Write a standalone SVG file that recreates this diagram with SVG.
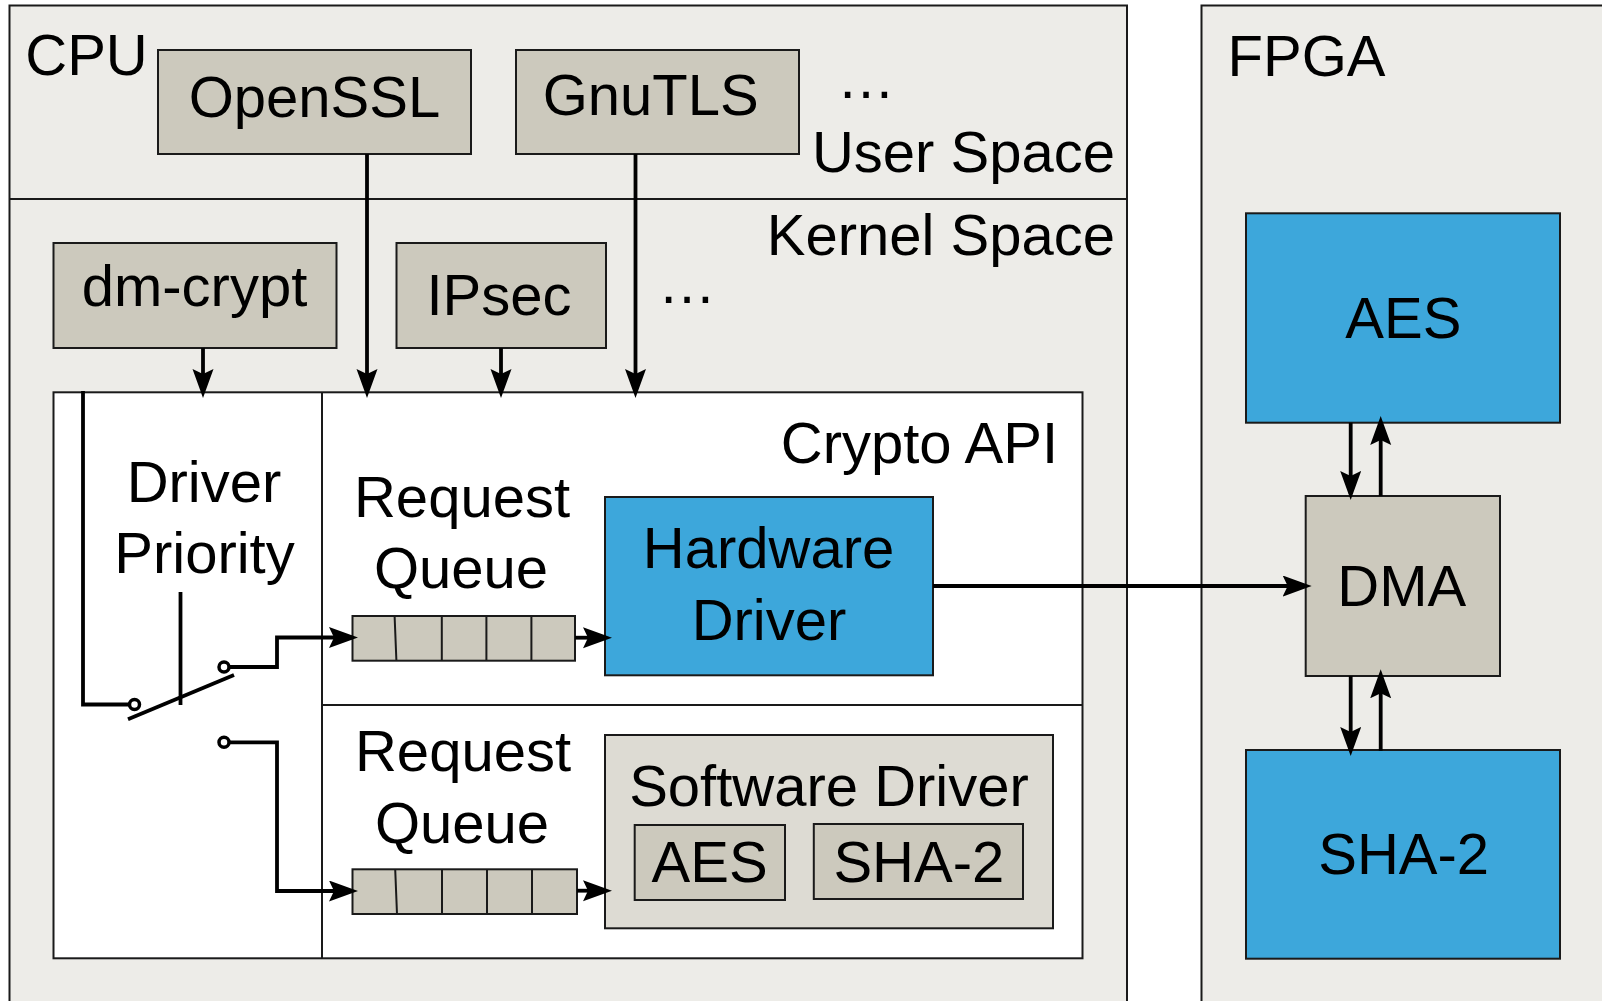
<svg xmlns="http://www.w3.org/2000/svg" width="1602" height="1001" viewBox="0 0 1602 1001">
<style>
text{font-family:"Liberation Sans",Arial,sans-serif;font-size:58px;fill:#000}
.c{text-anchor:middle}
.e{text-anchor:end}
.area{fill:#edece8;stroke:#1a1a1a;stroke-width:2}
.gray{fill:#ccc9bd;stroke:#1a1a1a;stroke-width:2}
.blue{fill:#3da7db;stroke:#1a1a1a;stroke-width:2}
.light{fill:#dddbd3;stroke:#1a1a1a;stroke-width:2}
.white{fill:#fff;stroke:#1a1a1a;stroke-width:2}
.thin{fill:none;stroke:#1a1a1a;stroke-width:2}
.con{fill:none;stroke:#000;stroke-width:3.8}
.arr{marker-end:url(#ah)}
.sw{fill:#fff;stroke:#000;stroke-width:3.5}
</style>
<defs>
<marker id="ah" markerUnits="userSpaceOnUse" markerWidth="32" markerHeight="24" refX="23" refY="10.5" orient="auto">
<path d="M0,0 L29,10.5 L0,21 L5,10.5 z" fill="#000"/>
</marker>
</defs>
<rect width="1602" height="1001" fill="#fff"/>

<g id="cpu">
<rect class="area" x="9.5" y="5.5" width="1117.5" height="1010"/>
<line class="thin" x1="9.5" y1="199" x2="1127" y2="199"/>
<text x="86.5" y="75" class="c">CPU</text>
<text x="1115" y="172" class="e">User Space</text>
<text x="1115" y="255" class="e">Kernel Space</text>
<text x="866" y="98" class="c">…</text>
<text x="687" y="303" class="c">…</text>
</g>

<g id="fpga">
<rect class="area" x="1201.5" y="5.5" width="420" height="1010"/>
<text x="1306.5" y="76" class="c">FPGA</text>
</g>

<g id="openssl">
<rect class="gray" x="158" y="50" width="313" height="104"/>
<text x="314.5" y="117" class="c">OpenSSL</text>
</g>
<g id="gnutls">
<rect class="gray" x="516" y="50" width="283" height="104"/>
<text x="650.7" y="115" class="c">GnuTLS</text>
</g>
<g id="dmcrypt">
<rect class="gray" x="53.5" y="243" width="283" height="105"/>
<text x="194.5" y="306" class="c">dm-crypt</text>
</g>
<g id="ipsec">
<rect class="gray" x="396.5" y="243" width="209.5" height="105"/>
<text x="499" y="315" class="c">IPsec</text>
</g>

<g id="cryptoapi">
<rect class="white" x="53.5" y="392.3" width="1029" height="566"/>
<line class="thin" x1="322" y1="392.3" x2="322" y2="958.3"/>
<line class="thin" x1="322" y1="705" x2="1082.5" y2="705"/>
<text x="1058" y="462.7" class="e">Crypto API</text>
</g>

<g id="driverpriority">
<text x="204" y="501.7" class="c">Driver</text>
<text x="204.5" y="573" class="c">Priority</text>
<line class="con" x1="180.5" y1="592" x2="180.5" y2="705"/>
<line class="con" x1="128" y1="719.3" x2="234" y2="675"/>
<circle class="sw" cx="134.5" cy="704.5" r="5"/>
<circle class="sw" cx="224" cy="667" r="5"/>
<circle class="sw" cx="224" cy="742.3" r="5"/>
</g>

<g id="queue1">
<text x="462" y="516.7" class="c">Request</text>
<text x="461" y="588" class="c">Queue</text>
<rect class="gray" x="352.5" y="616" width="222.5" height="44.7"/>
<path class="thin" d="M394.6,616 L396.4,660.7 M441.8,616 V660.7 M486.4,616 V660.7 M531.4,616 V660.7"/>
</g>

<g id="queue2">
<text x="463" y="770.7" class="c">Request</text>
<text x="462" y="843" class="c">Queue</text>
<rect class="gray" x="352.5" y="869.3" width="224.5" height="44.7"/>
<path class="thin" d="M395.2,869.3 L397,914 M442,869.3 V914 M487,869.3 V914 M532,869.3 V914"/>
</g>

<g id="hwdriver">
<rect class="blue" x="605" y="497" width="328" height="178.3"/>
<text x="768.5" y="568.3" class="c">Hardware</text>
<text x="769" y="640" class="c">Driver</text>
</g>

<g id="swdriver">
<rect class="light" x="605" y="735" width="448" height="193.3"/>
<text x="829" y="806" class="c">Software Driver</text>
<rect class="gray" x="634.7" y="825" width="150.3" height="75"/>
<text x="709.6" y="881.7" class="c">AES</text>
<rect class="gray" x="813.8" y="824" width="209.2" height="75"/>
<text x="918.8" y="881.7" class="c">SHA-2</text>
</g>

<g id="aes">
<rect class="blue" x="1246" y="213.3" width="314" height="209.4"/>
<text x="1403.3" y="338.3" class="c">AES</text>
</g>
<g id="dma">
<rect class="gray" x="1305.7" y="496" width="194.3" height="180"/>
<text x="1401.8" y="606" class="c">DMA</text>
</g>
<g id="sha2">
<rect class="blue" x="1246" y="750" width="314" height="208.7"/>
<text x="1403.7" y="874.3" class="c">SHA-2</text>
</g>

<g id="connectors">
<line class="con arr" x1="203" y1="348" x2="203" y2="392"/>
<line class="con arr" x1="367" y1="154" x2="367" y2="392"/>
<line class="con arr" x1="501" y1="348" x2="501" y2="392"/>
<line class="con arr" x1="635.5" y1="154" x2="635.5" y2="392"/>
<path class="con" d="M83,391 V704.5 H129.5"/>
<path class="con arr" d="M229,667 H277 V637.5 H352"/>
<path class="con arr" d="M229,742.3 H277 V891 H352"/>
<line class="con arr" x1="575" y1="637.7" x2="606" y2="637.7"/>
<line class="con arr" x1="577" y1="890.7" x2="606" y2="890.7"/>
<line class="con arr" x1="933" y1="586" x2="1305.7" y2="586"/>
<line class="con arr" x1="1350.7" y1="422.7" x2="1350.7" y2="494"/>
<line class="con arr" x1="1380.7" y1="496" x2="1380.7" y2="422"/>
<line class="con arr" x1="1350.7" y1="676" x2="1350.7" y2="750"/>
<line class="con arr" x1="1380.7" y1="750.7" x2="1380.7" y2="675.3"/>
</g>
</svg>
